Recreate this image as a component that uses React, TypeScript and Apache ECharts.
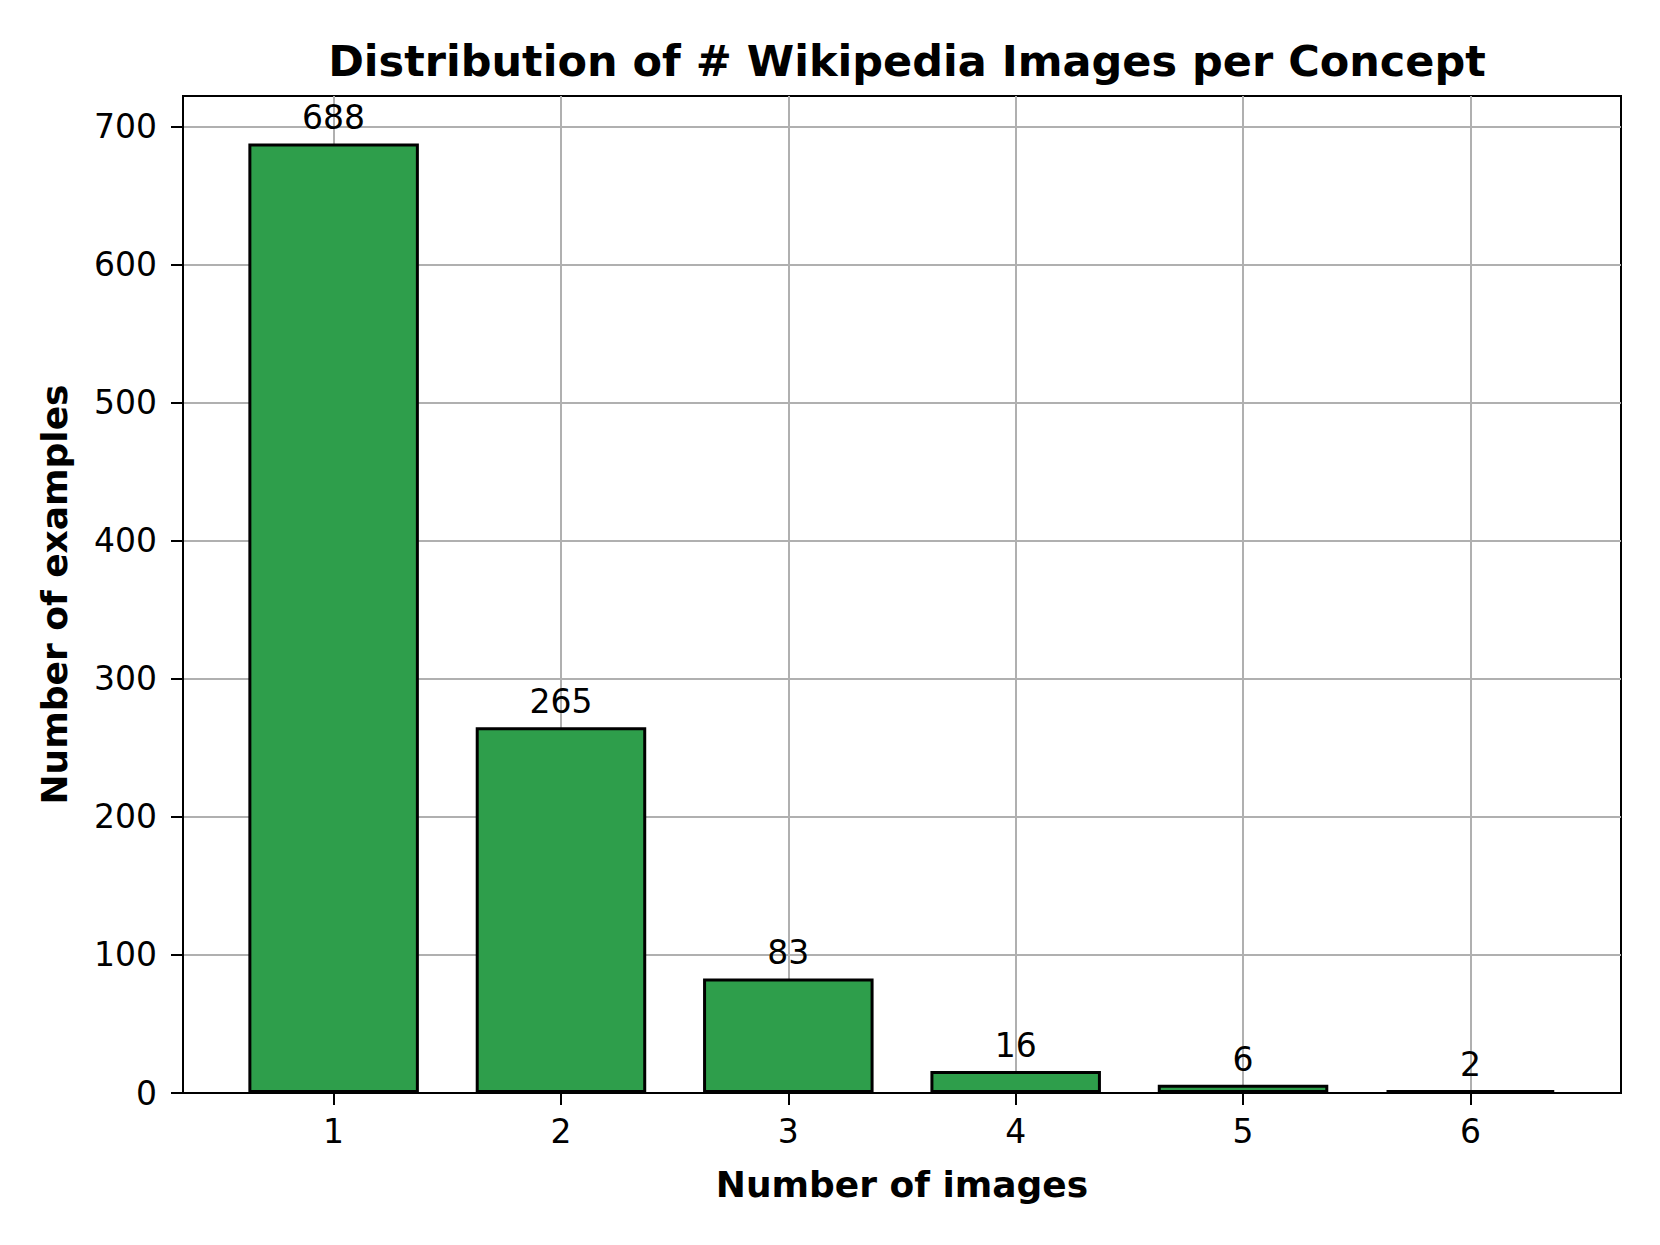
import React, { useEffect, useRef } from "react";
import * as echarts from "echarts";

const categories = [1, 2, 3, 4, 5, 6];
const counts = [688, 265, 83, 16, 6, 2];
const yTicks = [0, 100, 200, 300, 400, 500, 600, 700];

const FONT = "DejaVu Sans";

export default function App() {
  const ref = useRef<HTMLDivElement>(null);
  useEffect(() => {
    document.body.style.margin = "0";
    const chart = echarts.init(ref.current!, null, { renderer: "svg" });
    chart.setOption({
      animation: false,
      backgroundColor: "#ffffff",
      title: {
        text: "Distribution of # Wikipedia Images per Concept",
        left: 902,
        textAlign: "center",
        top: 34,
        textStyle: { fontFamily: FONT, fontSize: 43, fontWeight: "bold", color: "#000" },
      },
      grid: {
        left: 183,
        top: 96,
        width: 1438,
        height: 997,
        show: true,
        borderColor: "#000",
        borderWidth: 2,
        backgroundColor: "transparent",
      },
      xAxis: {
        type: "value",
        min: 0.3375,
        max: 6.6625,
        name: "Number of images",
        nameLocation: "middle",
        nameGap: 73,
        nameTextStyle: { fontFamily: FONT, fontSize: 36, fontWeight: "bold", color: "#000" },
        axisLine: { show: true, onZero: false, lineStyle: { color: "#000", width: 2 } },
        axisTick: { show: true, length: 12, lineStyle: { color: "#000", width: 2 }, customValues: categories },
        axisLabel: {
          customValues: categories,
          margin: 22,
          fontFamily: FONT,
          fontSize: 33,
          color: "#000",
        },
        splitLine: { show: true, lineStyle: { color: "#b0b0b0", width: 2 } },
      },
      yAxis: {
        type: "value",
        min: 0,
        max: 722.4,
        name: "Number of examples",
        nameLocation: "middle",
        nameGap: 111,
        nameTextStyle: { fontFamily: FONT, fontSize: 36, fontWeight: "bold", color: "#000" },
        axisLine: { show: true, lineStyle: { color: "#000", width: 2 } },
        axisTick: { show: true, length: 12, lineStyle: { color: "#000", width: 2 }, customValues: yTicks },
        axisLabel: {
          customValues: yTicks,
          margin: 26,
          fontFamily: FONT,
          fontSize: 33,
          color: "#000",
        },
        splitLine: { show: true, lineStyle: { color: "#b0b0b0", width: 2 } },
      },
      series: [
        {
          type: "bar",
          data: categories.map((c, i) => [c, counts[i]]),
          barWidth: "75%",
          itemStyle: { color: "#2e9e4b", borderColor: "#000", borderWidth: 3 },
          label: {
            show: true,
            position: "top",
            distance: 9,
            fontFamily: FONT,
            fontSize: 33,
            color: "#000",
            formatter: (p: any) => String(p.value[1]),
          },
        },
      ],
    });
    return () => chart.dispose();
  }, []);
  return <div ref={ref} style={{ width: 1660, height: 1245 }} />;
}
